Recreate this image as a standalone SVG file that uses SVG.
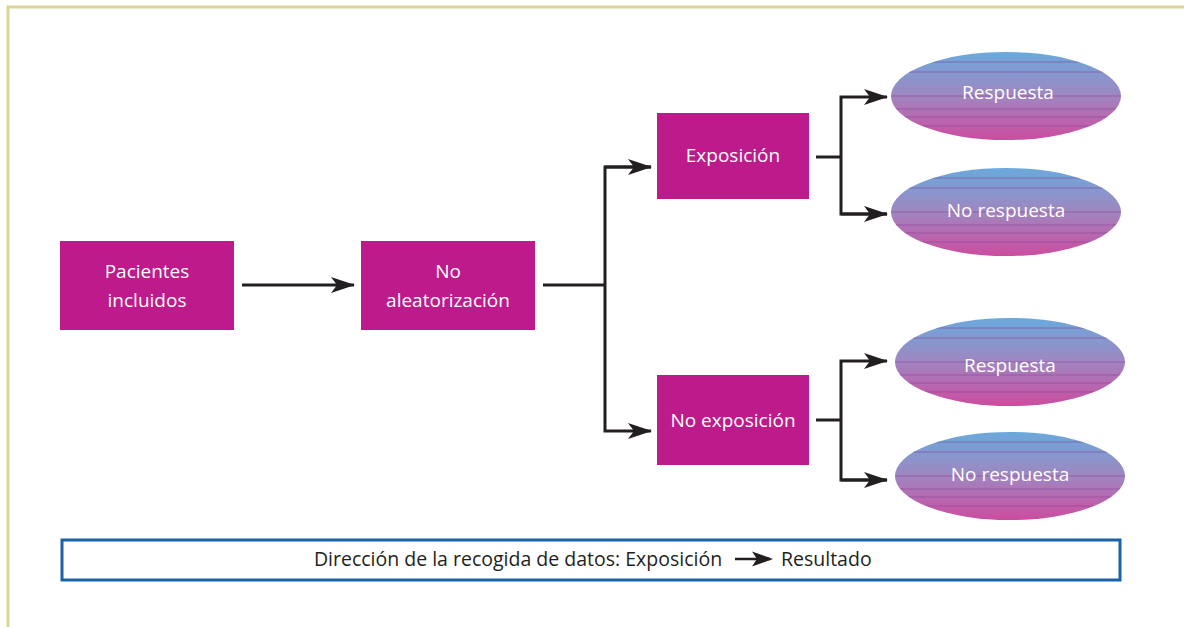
<svg xmlns="http://www.w3.org/2000/svg" width="1184" height="627" viewBox="0 0 1184 627">
<style>
.box{fill:#bd1a8b}
.t{font-family:"Open Sans","Liberation Sans",sans-serif;font-size:19px;fill:#ffffff;text-anchor:middle}
.c{stroke:#231f20;stroke-width:3;fill:none}
.el{fill:url(#g)}
.ln{stroke:#8a3f96;stroke-width:1;opacity:0.55}
</style>
<defs>
<linearGradient id="g" x1="0" y1="0" x2="0" y2="1">
<stop offset="0" stop-color="#6aa9dc"/>
<stop offset="0.5" stop-color="#a086c0"/>
<stop offset="1" stop-color="#cc4c9f"/>
</linearGradient>
<marker id="a" viewBox="0 0 24 16" refX="23" refY="8" markerWidth="24" markerHeight="16" markerUnits="userSpaceOnUse" orient="auto">
<path d="M0,0 L24,8 L0,16 L6,8 Z" fill="#231f20"/>
</marker>
<g id="lines">
<line class="ln" x1="-120" x2="120" y1="-34" y2="-34"/>
<line class="ln" x1="-120" x2="120" y1="-24" y2="-24"/>
<line class="ln" x1="-120" x2="120" y1="0" y2="0"/>
<line class="ln" x1="-120" x2="120" y1="13" y2="13"/>
<line class="ln" x1="-120" x2="120" y1="21" y2="21"/>
<line class="ln" x1="-120" x2="120" y1="30" y2="30"/>
</g>
<clipPath id="ce"><ellipse cx="0" cy="0" rx="115" ry="44"/></clipPath>
</defs>
<rect width="1184" height="627" fill="#ffffff"/>
<path d="M8,627 V7 H1184" fill="none" stroke="#dcd597" stroke-width="3"/>

<g id="connectors">
<line class="c" x1="242" y1="285" x2="354" y2="285" marker-end="url(#a)"/>
<polyline class="c" points="543,285 605,285"/>
<polyline class="c" points="651,167 605,167 605,431 651,431" marker-end="url(#a)"/>
<line class="c" x1="605" y1="167" x2="651" y2="167" marker-end="url(#a)"/>
<line class="c" x1="816" y1="157" x2="841" y2="157"/>
<polyline class="c" points="887,214 841,214 841,97 887,97" marker-end="url(#a)"/>
<line class="c" x1="841" y1="214" x2="887" y2="214" marker-end="url(#a)"/>
<line class="c" x1="816" y1="420" x2="841" y2="420"/>
<polyline class="c" points="887,480 841,480 841,361 887,361" marker-end="url(#a)"/>
<line class="c" x1="841" y1="480" x2="887" y2="480" marker-end="url(#a)"/>
</g>

<g id="pacientes">
<rect class="box" x="60" y="241" width="174" height="89"/>
<text class="t" x="147" y="278">Pacientes</text>
<text class="t" x="147" y="307">incluidos</text>
</g>
<g id="noaleat">
<rect class="box" x="361" y="241" width="174" height="89"/>
<text class="t" x="448" y="278">No</text>
<text class="t" x="448" y="307">aleatorización</text>
</g>
<g id="exposicion">
<rect class="box" x="657" y="113" width="152" height="86"/>
<text class="t" x="733" y="162">Exposición</text>
</g>
<g id="noexposicion">
<rect class="box" x="657" y="375" width="152" height="90"/>
<text class="t" x="733" y="427">No exposición</text>
</g>

<g id="resp1" transform="translate(1006,96)">
<ellipse class="el" cx="0" cy="0" rx="115" ry="44"/>
<use href="#lines" clip-path="url(#ce)"/>
<text class="t" x="2" y="3">Respuesta</text>
</g>
<g id="noresp1" transform="translate(1006,212)">
<ellipse class="el" cx="0" cy="0" rx="115" ry="44"/>
<use href="#lines" clip-path="url(#ce)"/>
<text class="t" x="0" y="5">No respuesta</text>
</g>
<g id="resp2" transform="translate(1010,362)">
<ellipse class="el" cx="0" cy="0" rx="115" ry="44"/>
<use href="#lines" clip-path="url(#ce)"/>
<text class="t" x="0" y="10">Respuesta</text>
</g>
<g id="noresp2" transform="translate(1010,476)">
<ellipse class="el" cx="0" cy="0" rx="115" ry="44"/>
<use href="#lines" clip-path="url(#ce)"/>
<text class="t" x="0" y="5">No respuesta</text>
</g>

<g id="legend">
<rect x="62" y="540" width="1058" height="40" fill="#ffffff" stroke="#1b63a9" stroke-width="3"/>
<text x="518" y="566" font-family="'Open Sans','Liberation Sans',sans-serif" font-size="19.5" fill="#231f20" text-anchor="middle">Dirección de la recogida de datos: Exposición</text>
<path d="M735,559 H770" stroke="#231f20" stroke-width="2.5"/>
<path d="M773,559 L752,551.5 L757,559 L752,566.5 Z" fill="#231f20"/>
<text x="781" y="566" font-family="'Open Sans','Liberation Sans',sans-serif" font-size="19.5" fill="#231f20">Resultado</text>
</g>
</svg>
